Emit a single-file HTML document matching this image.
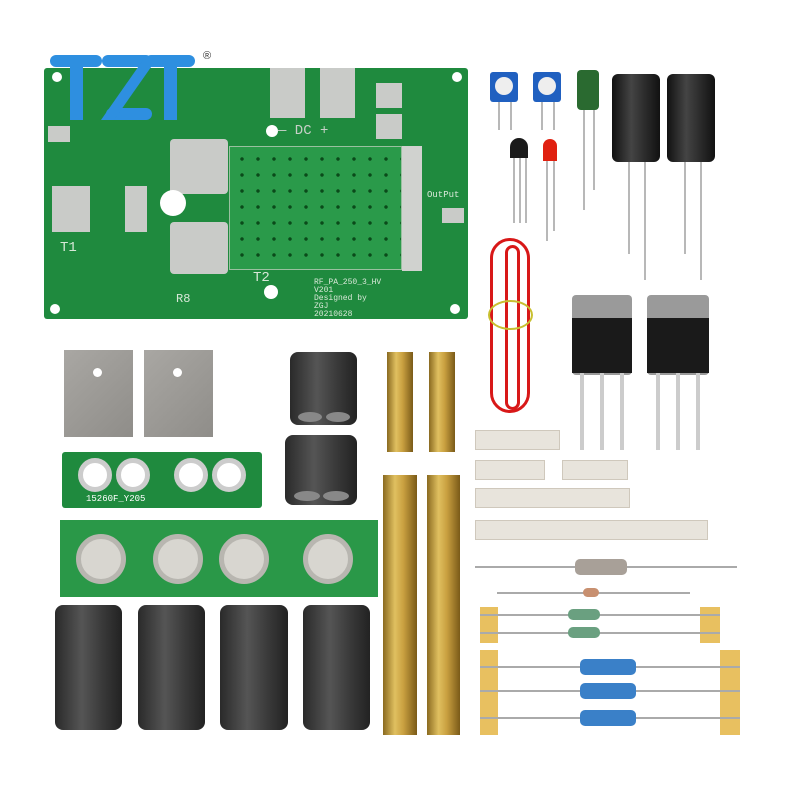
<!DOCTYPE html>
<html><head><style>
body{margin:0;width:800px;height:800px;background:#fff;position:relative;overflow:hidden;font-family:"Liberation Mono",monospace}
div{position:absolute;box-sizing:border-box}
.g{background:#1f8a3e}
.pad{background:#c9cbc8}
.fer{background:linear-gradient(90deg,#2a2a2a,#555 40%,#3a3a3a 70%,#222);border-radius:8px}
.brass{background:linear-gradient(90deg,#8a6a20,#e0c060 35%,#c9a040 60%,#7a5a18)}
.al{background:linear-gradient(135deg,#a9a7a3,#8f8d89)}
.hole{border-radius:50%;background:#fff}
.wash{border-radius:50%;background:#d8d6d0;border:5px solid #b8b6b0}
.lead{background:#b8b8b8;width:2px}
.smd{background:#e8e4dc;border:1px solid #cfc8bc}
.tape{background:#e8c060}
.res{border-radius:5px}
.t{color:#d8e8d8;font-size:9px}
</style></head><body>
<!-- main pcb -->
<div class="g" style="left:44px;top:68px;width:424px;height:251px;border-radius:3px"></div>
<div style="left:229px;top:146px;width:173px;height:124px;background:#2a9a4a radial-gradient(circle,#0a4a1a 1.5px,transparent 2px) 4px 4px/16px 16px;border:1px solid #9ac0a0"></div>
<div style="left:402px;top:146px;width:20px;height:125px;background:#d0d2cf"></div>
<div class="pad" style="left:270px;top:68px;width:35px;height:50px"></div>
<div class="pad" style="left:320px;top:68px;width:35px;height:50px"></div>
<div class="pad" style="left:376px;top:83px;width:26px;height:25px"></div>
<div class="pad" style="left:376px;top:114px;width:26px;height:25px"></div>
<div class="pad" style="left:170px;top:139px;width:58px;height:55px;border-radius:4px"></div>
<div class="pad" style="left:170px;top:222px;width:58px;height:52px;border-radius:4px"></div>
<div class="pad" style="left:52px;top:186px;width:38px;height:46px"></div>
<div class="pad" style="left:125px;top:186px;width:22px;height:46px"></div>
<div class="pad" style="left:48px;top:126px;width:22px;height:16px"></div>
<div class="pad" style="left:442px;top:208px;width:22px;height:15px"></div>
<div class="hole" style="left:160px;top:190px;width:26px;height:26px"></div>
<div class="hole" style="left:52px;top:72px;width:10px;height:10px"></div>
<div class="hole" style="left:452px;top:72px;width:10px;height:10px"></div>
<div class="hole" style="left:50px;top:304px;width:10px;height:10px"></div>
<div class="hole" style="left:450px;top:304px;width:10px;height:10px"></div>
<div class="hole" style="left:266px;top:125px;width:12px;height:12px"></div>
<div class="hole" style="left:264px;top:285px;width:14px;height:14px"></div>
<div class="t" style="left:278px;top:123px;font-size:14px;color:#c8d0c8">— DC +</div>
<div class="t" style="left:253px;top:270px;font-size:14px">T2</div>
<div class="t" style="left:60px;top:240px;font-size:14px">T1</div>
<div class="t" style="left:314px;top:279px;line-height:8px;font-size:8px">RF_PA_250_3_HV<br>V201<br>Designed by<br>ZGJ<br>20210628</div>
<div class="t" style="left:427px;top:190px">OutPut</div>
<div class="t" style="left:176px;top:292px;font-size:12px">R8</div>
<div style="left:50px;top:55px;width:52px;height:12px;background:#2e8fe0;border-radius:6px"></div>
<div style="left:70px;top:55px;width:13px;height:65px;background:#2e8fe0"></div>
<div style="left:102px;top:55px;width:50px;height:12px;background:#2e8fe0;border-radius:6px"></div>
<div style="left:106px;top:108px;width:46px;height:12px;background:#2e8fe0;border-radius:6px"></div>
<div style="left:122px;top:60px;width:13px;height:60px;background:#2e8fe0;transform:skewX(-35deg)"></div>
<div style="left:145px;top:55px;width:50px;height:12px;background:#2e8fe0;border-radius:6px"></div>
<div style="left:164px;top:55px;width:13px;height:65px;background:#2e8fe0"></div>
<div style="left:203px;top:50px;font:11px 'Liberation Sans',sans-serif;color:#333">®</div>
<!-- top right components -->
<div style="left:490px;top:72px;width:28px;height:30px;background:#2060c0;border-radius:3px"></div>
<div style="left:495px;top:77px;width:18px;height:18px;background:#eee;border-radius:50%"></div>
<div style="left:533px;top:72px;width:28px;height:30px;background:#2060c0;border-radius:3px"></div>
<div style="left:538px;top:77px;width:18px;height:18px;background:#eee;border-radius:50%"></div>
<div class="lead" style="left:498px;top:102px;height:28px"></div><div class="lead" style="left:510px;top:102px;height:28px"></div>
<div class="lead" style="left:541px;top:102px;height:28px"></div><div class="lead" style="left:553px;top:102px;height:28px"></div>
<div style="left:577px;top:70px;width:22px;height:40px;background:#2a6a30;border-radius:4px"></div>
<div class="lead" style="left:583px;top:110px;height:100px"></div><div class="lead" style="left:593px;top:110px;height:80px"></div>
<div style="left:612px;top:74px;width:48px;height:88px;background:linear-gradient(90deg,#111,#444 40%,#111);border-radius:6px"></div>
<div style="left:667px;top:74px;width:48px;height:88px;background:linear-gradient(90deg,#111,#444 40%,#111);border-radius:6px"></div>
<div class="lead" style="left:628px;top:162px;height:92px"></div><div class="lead" style="left:644px;top:162px;height:118px"></div>
<div class="lead" style="left:684px;top:162px;height:92px"></div><div class="lead" style="left:700px;top:162px;height:118px"></div>
<div style="left:510px;top:138px;width:18px;height:20px;background:#1a1a1a;border-radius:9px 9px 0 0"></div>
<div class="lead" style="left:513px;top:158px;height:65px"></div><div class="lead" style="left:519px;top:158px;height:65px"></div><div class="lead" style="left:525px;top:158px;height:65px"></div>
<div style="left:543px;top:139px;width:14px;height:22px;background:#e02010;border-radius:7px 7px 0 0"></div>
<div class="lead" style="left:546px;top:161px;height:80px"></div><div class="lead" style="left:553px;top:161px;height:70px"></div>
<!-- red wire -->
<div style="left:490px;top:238px;width:40px;height:175px;border:3px solid #d81818;border-radius:20px"></div>
<div style="left:505px;top:245px;width:15px;height:165px;border:3px solid #d81818;border-radius:10px"></div>
<div style="left:488px;top:300px;width:45px;height:30px;border:2px solid #c8c030;border-radius:50%"></div>
<!-- transistors -->
<div style="left:572px;top:295px;width:60px;height:80px;background:#9a9a9a;border-radius:4px"></div>
<div style="left:572px;top:318px;width:60px;height:55px;background:#1a1a1a"></div>
<div style="left:647px;top:295px;width:62px;height:80px;background:#9a9a9a;border-radius:4px"></div>
<div style="left:647px;top:318px;width:62px;height:55px;background:#1a1a1a"></div>
<div class="lead" style="left:580px;top:373px;height:77px;width:4px;background:#ccc"></div><div class="lead" style="left:600px;top:373px;height:77px;width:4px;background:#ccc"></div><div class="lead" style="left:620px;top:373px;height:77px;width:4px;background:#ccc"></div>
<div class="lead" style="left:656px;top:373px;height:77px;width:4px;background:#ccc"></div><div class="lead" style="left:676px;top:373px;height:77px;width:4px;background:#ccc"></div><div class="lead" style="left:696px;top:373px;height:77px;width:4px;background:#ccc"></div>
<!-- aluminum pads -->
<div class="al" style="left:64px;top:350px;width:69px;height:87px"></div>
<div class="hole" style="left:93px;top:368px;width:9px;height:9px"></div>
<div class="al" style="left:144px;top:350px;width:69px;height:87px"></div>
<div class="hole" style="left:173px;top:368px;width:9px;height:9px"></div>
<!-- small pcb -->
<div class="g" style="left:62px;top:452px;width:200px;height:56px;border-radius:3px"></div>
<div class="wash" style="left:78px;top:458px;width:34px;height:34px;background:#fff;border-color:#ccc"></div>
<div class="wash" style="left:116px;top:458px;width:34px;height:34px;background:#fff;border-color:#ccc"></div>
<div class="wash" style="left:174px;top:458px;width:34px;height:34px;background:#fff;border-color:#ccc"></div>
<div class="wash" style="left:212px;top:458px;width:34px;height:34px;background:#fff;border-color:#ccc"></div>
<div style="left:86px;top:494px;font-size:9px;color:#fff">15260F_Y205</div>
<!-- large pcb -->
<div class="g" style="left:60px;top:520px;width:318px;height:77px;background:#2a9848"></div>
<div class="wash" style="left:76px;top:534px;width:50px;height:50px"></div>
<div class="wash" style="left:153px;top:534px;width:50px;height:50px"></div>
<div class="wash" style="left:219px;top:534px;width:50px;height:50px"></div>
<div class="wash" style="left:303px;top:534px;width:50px;height:50px"></div>
<!-- ferrites -->
<div class="fer" style="left:55px;top:605px;width:67px;height:125px"></div>
<div class="fer" style="left:138px;top:605px;width:67px;height:125px"></div>
<div class="fer" style="left:220px;top:605px;width:68px;height:125px"></div>
<div class="fer" style="left:303px;top:605px;width:67px;height:125px"></div>
<div class="fer" style="left:290px;top:352px;width:67px;height:73px"></div>
<div style="left:298px;top:412px;width:24px;height:10px;background:#888;border-radius:50%"></div>
<div style="left:326px;top:412px;width:24px;height:10px;background:#888;border-radius:50%"></div>
<div class="fer" style="left:285px;top:435px;width:72px;height:70px"></div>
<div style="left:294px;top:491px;width:26px;height:10px;background:#888;border-radius:50%"></div>
<div style="left:323px;top:491px;width:26px;height:10px;background:#888;border-radius:50%"></div>
<!-- brass -->
<div class="brass" style="left:387px;top:352px;width:26px;height:100px"></div>
<div class="brass" style="left:429px;top:352px;width:26px;height:100px"></div>
<div class="brass" style="left:383px;top:475px;width:34px;height:260px"></div>
<div class="brass" style="left:427px;top:475px;width:33px;height:260px"></div>
<!-- smd strips -->
<div class="smd" style="left:475px;top:430px;width:85px;height:20px"></div>
<div class="smd" style="left:475px;top:460px;width:70px;height:20px"></div>
<div class="smd" style="left:562px;top:460px;width:66px;height:20px"></div>
<div class="smd" style="left:475px;top:488px;width:155px;height:20px"></div>
<div class="smd" style="left:475px;top:520px;width:233px;height:20px"></div>
<!-- resistors -->
<div style="left:475px;top:566px;width:262px;height:2px;background:#aaa"></div>
<div class="res" style="left:575px;top:559px;width:52px;height:16px;background:#a8a098"></div>
<div style="left:497px;top:592px;width:193px;height:2px;background:#aaa"></div>
<div class="res" style="left:583px;top:588px;width:16px;height:9px;background:#c89070"></div>
<div class="tape" style="left:480px;top:607px;width:18px;height:36px"></div>
<div class="tape" style="left:700px;top:607px;width:20px;height:36px"></div>
<div style="left:480px;top:614px;width:240px;height:2px;background:#aaa"></div>
<div style="left:480px;top:632px;width:240px;height:2px;background:#aaa"></div>
<div class="res" style="left:568px;top:609px;width:32px;height:11px;background:#6aa080"></div>
<div class="res" style="left:568px;top:627px;width:32px;height:11px;background:#6aa080"></div>
<div class="tape" style="left:480px;top:650px;width:18px;height:85px"></div>
<div class="tape" style="left:720px;top:650px;width:20px;height:85px"></div>
<div style="left:480px;top:666px;width:260px;height:2px;background:#aaa"></div>
<div style="left:480px;top:690px;width:260px;height:2px;background:#aaa"></div>
<div style="left:480px;top:717px;width:260px;height:2px;background:#aaa"></div>
<div class="res" style="left:580px;top:659px;width:56px;height:16px;background:#3a80c8"></div>
<div class="res" style="left:580px;top:683px;width:56px;height:16px;background:#3a80c8"></div>
<div class="res" style="left:580px;top:710px;width:56px;height:16px;background:#3a80c8"></div>
</body></html>
